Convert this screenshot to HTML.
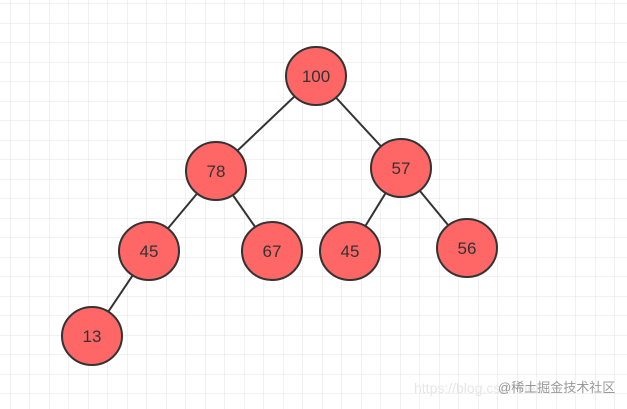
<!DOCTYPE html>
<html><head><style>
html,body{margin:0;padding:0;width:627px;height:409px;overflow:hidden;background:#fff}
</style></head><body>
<svg width="627" height="409" xmlns="http://www.w3.org/2000/svg">
<defs>
<pattern id="g" width="19.5" height="19.5" patternUnits="userSpaceOnUse" x="10" y="3.5">
<path d="M0 0H19.5M0 0V19.5" stroke="#e3e3e3" stroke-width="1" fill="none"/>
</pattern>
</defs>
<rect width="627" height="409" fill="url(#g)"/>
<g stroke="#333" stroke-width="2">
<line x1="316" y1="76" x2="216" y2="171"/>
<line x1="316" y1="76" x2="401" y2="168"/>
<line x1="216" y1="171" x2="149" y2="251"/>
<line x1="216" y1="171" x2="272" y2="251"/>
<line x1="401" y1="168" x2="350" y2="251"/>
<line x1="401" y1="168" x2="467" y2="248"/>
<line x1="149" y1="251" x2="92" y2="336"/>
</g>
<g fill="#ff6666" stroke="#333" stroke-width="2">
<ellipse cx="316" cy="76" rx="30" ry="29"/>
<ellipse cx="216" cy="171" rx="30" ry="29"/>
<ellipse cx="401" cy="168" rx="30" ry="29"/>
<ellipse cx="149" cy="251" rx="30" ry="29"/>
<ellipse cx="272" cy="251" rx="30" ry="29"/>
<ellipse cx="350" cy="251" rx="30" ry="29"/>
<ellipse cx="467" cy="248" rx="30" ry="29"/>
<ellipse cx="92" cy="336" rx="30" ry="29"/>
</g>
<g font-family="Liberation Sans, sans-serif" font-size="17" fill="#333" text-anchor="middle">
<text x="316" y="82">100</text>
<text x="216" y="177">78</text>
<text x="401" y="174">57</text>
<text x="149" y="257">45</text>
<text x="272" y="257">67</text>
<text x="350" y="257">45</text>
<text x="467" y="254">56</text>
<text x="92" y="342">13</text>
</g>
<text x="414" y="393" font-family="Liberation Sans, sans-serif" font-size="14" fill="#e6e6e6">https://blog.csdn.net</text>
<text x="498" y="392" font-family="Liberation Sans, 'Noto Sans CJK SC', sans-serif" font-size="13" fill="#999">@稀土掘金技术社区</text>
</svg>
</body></html>
